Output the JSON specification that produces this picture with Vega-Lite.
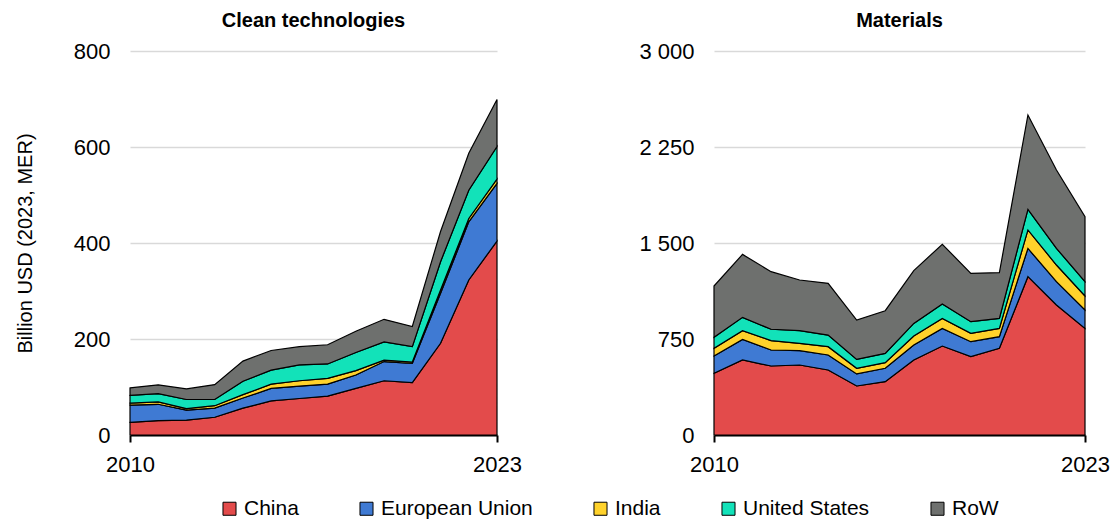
{
  "$schema": "https://vega.github.io/schema/vega-lite/v6.json",
  "padding": {"left": 15, "top": 11, "right": 5, "bottom": 5},
  "data": {"values": [
    {"p":"C","y":2010,"r":"China","v":26.4},{"p":"C","y":2010,"r":"European Union","v":36},{"p":"C","y":2010,"r":"India","v":4},{"p":"C","y":2010,"r":"United States","v":16},{"p":"C","y":2010,"r":"RoW","v":15.6},
    {"p":"C","y":2011,"r":"China","v":30},{"p":"C","y":2011,"r":"European Union","v":34},{"p":"C","y":2011,"r":"India","v":5},{"p":"C","y":2011,"r":"United States","v":17},{"p":"C","y":2011,"r":"RoW","v":18.6},
    {"p":"C","y":2012,"r":"China","v":31},{"p":"C","y":2012,"r":"European Union","v":21},{"p":"C","y":2012,"r":"India","v":3},{"p":"C","y":2012,"r":"United States","v":19},{"p":"C","y":2012,"r":"RoW","v":22},
    {"p":"C","y":2013,"r":"China","v":37},{"p":"C","y":2013,"r":"European Union","v":19},{"p":"C","y":2013,"r":"India","v":5},{"p":"C","y":2013,"r":"United States","v":13},{"p":"C","y":2013,"r":"RoW","v":31},
    {"p":"C","y":2014,"r":"China","v":56},{"p":"C","y":2014,"r":"European Union","v":21},{"p":"C","y":2014,"r":"India","v":7},{"p":"C","y":2014,"r":"United States","v":28},{"p":"C","y":2014,"r":"RoW","v":42},
    {"p":"C","y":2015,"r":"China","v":71},{"p":"C","y":2015,"r":"European Union","v":26},{"p":"C","y":2015,"r":"India","v":9},{"p":"C","y":2015,"r":"United States","v":29},{"p":"C","y":2015,"r":"RoW","v":41},
    {"p":"C","y":2016,"r":"China","v":76},{"p":"C","y":2016,"r":"European Union","v":26},{"p":"C","y":2016,"r":"India","v":11},{"p":"C","y":2016,"r":"United States","v":33},{"p":"C","y":2016,"r":"RoW","v":38},
    {"p":"C","y":2017,"r":"China","v":81},{"p":"C","y":2017,"r":"European Union","v":25},{"p":"C","y":2017,"r":"India","v":12},{"p":"C","y":2017,"r":"United States","v":30},{"p":"C","y":2017,"r":"RoW","v":40},
    {"p":"C","y":2018,"r":"China","v":97},{"p":"C","y":2018,"r":"European Union","v":28},{"p":"C","y":2018,"r":"India","v":9},{"p":"C","y":2018,"r":"United States","v":38},{"p":"C","y":2018,"r":"RoW","v":44},
    {"p":"C","y":2019,"r":"China","v":113},{"p":"C","y":2019,"r":"European Union","v":40},{"p":"C","y":2019,"r":"India","v":3},{"p":"C","y":2019,"r":"United States","v":38},{"p":"C","y":2019,"r":"RoW","v":47},
    {"p":"C","y":2020,"r":"China","v":109},{"p":"C","y":2020,"r":"European Union","v":40},{"p":"C","y":2020,"r":"India","v":3},{"p":"C","y":2020,"r":"United States","v":32},{"p":"C","y":2020,"r":"RoW","v":42},
    {"p":"C","y":2021,"r":"China","v":191},{"p":"C","y":2021,"r":"European Union","v":104},{"p":"C","y":2021,"r":"India","v":7},{"p":"C","y":2021,"r":"United States","v":59},{"p":"C","y":2021,"r":"RoW","v":63},
    {"p":"C","y":2022,"r":"China","v":323},{"p":"C","y":2022,"r":"European Union","v":121},{"p":"C","y":2022,"r":"India","v":7},{"p":"C","y":2022,"r":"United States","v":59},{"p":"C","y":2022,"r":"RoW","v":77},
    {"p":"C","y":2023,"r":"China","v":404},{"p":"C","y":2023,"r":"European Union","v":120},{"p":"C","y":2023,"r":"India","v":9},{"p":"C","y":2023,"r":"United States","v":68},{"p":"C","y":2023,"r":"RoW","v":98},
    {"p":"M","y":2010,"r":"China","v":482},{"p":"M","y":2010,"r":"European Union","v":135},{"p":"M","y":2010,"r":"India","v":60},{"p":"M","y":2010,"r":"United States","v":86},{"p":"M","y":2010,"r":"RoW","v":401},
    {"p":"M","y":2011,"r":"China","v":586},{"p":"M","y":2011,"r":"European Union","v":161},{"p":"M","y":2011,"r":"India","v":68},{"p":"M","y":2011,"r":"United States","v":104},{"p":"M","y":2011,"r":"RoW","v":492},
    {"p":"M","y":2012,"r":"China","v":539},{"p":"M","y":2012,"r":"European Union","v":125},{"p":"M","y":2012,"r":"India","v":73},{"p":"M","y":2012,"r":"United States","v":89},{"p":"M","y":2012,"r":"RoW","v":450},
    {"p":"M","y":2013,"r":"China","v":547},{"p":"M","y":2013,"r":"European Union","v":112},{"p":"M","y":2013,"r":"India","v":57},{"p":"M","y":2013,"r":"United States","v":99},{"p":"M","y":2013,"r":"RoW","v":396},
    {"p":"M","y":2014,"r":"China","v":508},{"p":"M","y":2014,"r":"European Union","v":117},{"p":"M","y":2014,"r":"India","v":65},{"p":"M","y":2014,"r":"United States","v":91},{"p":"M","y":2014,"r":"RoW","v":404},
    {"p":"M","y":2015,"r":"China","v":383},{"p":"M","y":2015,"r":"European Union","v":94},{"p":"M","y":2015,"r":"India","v":44},{"p":"M","y":2015,"r":"United States","v":70},{"p":"M","y":2015,"r":"RoW","v":307},
    {"p":"M","y":2016,"r":"China","v":417},{"p":"M","y":2016,"r":"European Union","v":104},{"p":"M","y":2016,"r":"India","v":44},{"p":"M","y":2016,"r":"United States","v":73},{"p":"M","y":2016,"r":"RoW","v":333},
    {"p":"M","y":2017,"r":"China","v":586},{"p":"M","y":2017,"r":"European Union","v":117},{"p":"M","y":2017,"r":"India","v":70},{"p":"M","y":2017,"r":"United States","v":99},{"p":"M","y":2017,"r":"RoW","v":412},
    {"p":"M","y":2018,"r":"China","v":695},{"p":"M","y":2018,"r":"European Union","v":138},{"p":"M","y":2018,"r":"India","v":78},{"p":"M","y":2018,"r":"United States","v":112},{"p":"M","y":2018,"r":"RoW","v":467},
    {"p":"M","y":2019,"r":"China","v":612},{"p":"M","y":2019,"r":"European Union","v":117},{"p":"M","y":2019,"r":"India","v":65},{"p":"M","y":2019,"r":"United States","v":91},{"p":"M","y":2019,"r":"RoW","v":378},
    {"p":"M","y":2020,"r":"China","v":677},{"p":"M","y":2020,"r":"European Union","v":91},{"p":"M","y":2020,"r":"India","v":65},{"p":"M","y":2020,"r":"United States","v":78},{"p":"M","y":2020,"r":"RoW","v":357},
    {"p":"M","y":2021,"r":"China","v":1237},{"p":"M","y":2021,"r":"European Union","v":221},{"p":"M","y":2021,"r":"India","v":144},{"p":"M","y":2021,"r":"United States","v":161},{"p":"M","y":2021,"r":"RoW","v":737},
    {"p":"M","y":2022,"r":"China","v":1016},{"p":"M","y":2022,"r":"European Union","v":182},{"p":"M","y":2022,"r":"India","v":130},{"p":"M","y":2022,"r":"United States","v":130},{"p":"M","y":2022,"r":"RoW","v":612},
    {"p":"M","y":2023,"r":"China","v":833},{"p":"M","y":2023,"r":"European Union","v":144},{"p":"M","y":2023,"r":"India","v":109},{"p":"M","y":2023,"r":"United States","v":112},{"p":"M","y":2023,"r":"RoW","v":508}
  ]},
  "transform": [
    {"calculate": "indexof(['China','European Union','India','United States','RoW'], datum.r)", "as": "o"}
  ],
  "hconcat": [
    {
      "width": 367,
      "height": 384,
      "title": "Clean technologies",
      "transform": [{"filter": "datum.p === 'C'"}],
      "mark": {"type": "area", "stroke": "black", "strokeWidth": 1.2, "strokeJoin": "miter", "opacity": 1},
      "encoding": {
        "x": {"field": "y", "type": "quantitative", "scale": {"domain": [2010, 2023], "nice": false, "zero": false},
              "axis": {"values": [2010, 2023], "format": "d", "title": null, "grid": false}},
        "y": {"field": "v", "type": "quantitative", "stack": "zero", "scale": {"domain": [0, 800], "nice": false},
              "axis": {"values": [0, 200, 400, 600, 800], "title": "Billion USD (2023, MER)", "domain": false, "ticks": false, "labelPadding": 20, "titlePadding": 38}},
        "color": {"field": "r", "type": "nominal", "title": null,
                  "scale": {"domain": ["China", "European Union", "India", "United States", "RoW"], "range": ["#e34b4b", "#3f7ad3", "#ffd22b", "#12e2b9", "#6e706e"]},
                  "legend": {"orient": "none", "legendX": 89, "legendY": 447}},
        "order": {"field": "o", "type": "quantitative"}
      }
    },
    {
      "width": 371,
      "height": 384,
      "title": "Materials",
      "transform": [{"filter": "datum.p === 'M'"}],
      "mark": {"type": "area", "stroke": "black", "strokeWidth": 1.2, "strokeJoin": "miter", "opacity": 1},
      "encoding": {
        "x": {"field": "y", "type": "quantitative", "scale": {"domain": [2010, 2023], "nice": false, "zero": false},
              "axis": {"values": [2010, 2023], "format": "d", "title": null, "grid": false}},
        "y": {"field": "v", "type": "quantitative", "stack": "zero", "scale": {"domain": [0, 3000], "nice": false},
              "axis": {"values": [0, 750, 1500, 2250, 3000], "format": ",d", "labelExpr": "replace(datum.label, ',', ' ')", "title": null, "domain": false, "ticks": false, "labelPadding": 20}},
        "color": {"field": "r", "type": "nominal", "title": null,
                  "scale": {"domain": ["China", "European Union", "India", "United States", "RoW"], "range": ["#e34b4b", "#3f7ad3", "#ffd22b", "#12e2b9", "#6e706e"]},
                  "legend": {"orient": "none", "legendX": 89, "legendY": 447}},
        "order": {"field": "o", "type": "quantitative"}
      }
    }
  ],
  "config": {
    "font": "Liberation Sans",
    "view": {"stroke": null},
    "concat": {"spacing": 116},
    "bounds": "flush",
    "title": {"fontSize": 20, "fontWeight": "bold", "color": "black", "offset": 9, "anchor": "middle"},
    "axis": {"labelFont": "Liberation Sans", "labelFontSize": 22, "labelColor": "black", "titleFont": "Liberation Sans", "titleFontSize": 20, "titleFontWeight": "normal", "titleColor": "black", "gridColor": "#d9d9d9", "gridWidth": 1.5},
    "axisX": {"domainColor": "black", "domainWidth": 2, "tickColor": "black", "tickWidth": 2, "tickSize": 7, "labelPadding": 12, "labelFlush": false},
    "legend": {"direction": "horizontal", "symbolType": "square", "symbolSize": 170, "symbolStrokeColor": "black", "symbolStrokeWidth": 1, "labelFontSize": 21, "labelColor": "black", "labelFont": "Liberation Sans", "columnPadding": 57, "labelOffset": 4}
  }
}
